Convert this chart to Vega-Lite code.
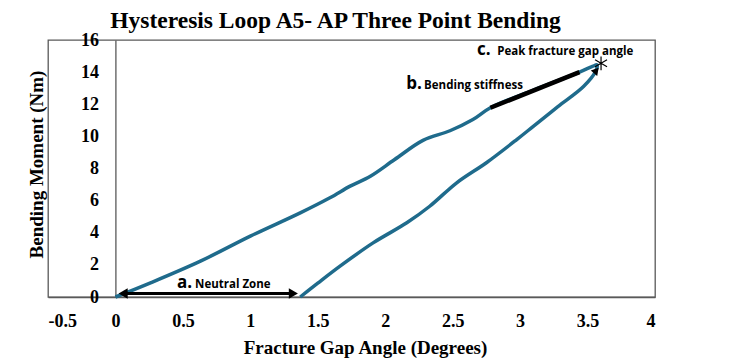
{
  "$schema": "https://vega.github.io/schema/vega-lite/v6.json",
  "width": 607,
  "height": 257,
  "autosize": {"type": "none"},
  "padding": {"left": 48, "top": 40, "right": 95, "bottom": 64},
  "background": "white",
  "title": {
    "text": "Hysteresis Loop A5- AP Three Point Bending",
    "font": "Liberation Serif",
    "fontSize": 23.5,
    "fontWeight": "bold",
    "color": "black",
    "anchor": "middle",
    "frame": "group",
    "baseline": "bottom",
    "offset": 6,
    "dx": -16,
    "dy": 31
  },
  "config": {
    "view": {"stroke": "#595959", "strokeWidth": 1.3},
    "axis": {
      "grid": false,
      "ticks": false,
      "labelOverlap": false,
      "labelFont": "Liberation Serif",
      "labelFontSize": 18,
      "labelFontWeight": "bold",
      "labelColor": "black",
      "titleFont": "Liberation Serif",
      "titleFontSize": 19,
      "titleFontWeight": "bold",
      "titleColor": "black",
      "domainColor": "#595959",
      "domainWidth": 1.3
    }
  },
  "datasets": {
    "loop": [
      {"i": 0, "angle": 0.0, "moment": 0.0},
      {"i": 1, "angle": 0.26, "moment": 0.88},
      {"i": 2, "angle": 0.63, "moment": 2.23},
      {"i": 3, "angle": 1.0, "moment": 3.79},
      {"i": 4, "angle": 1.37, "moment": 5.24},
      {"i": 5, "angle": 1.59, "moment": 6.18},
      {"i": 6, "angle": 1.74, "moment": 6.9},
      {"i": 7, "angle": 1.89, "moment": 7.52},
      {"i": 8, "angle": 2.07, "moment": 8.56},
      {"i": 9, "angle": 2.28, "moment": 9.75},
      {"i": 10, "angle": 2.48, "moment": 10.35},
      {"i": 11, "angle": 2.65, "moment": 11.05},
      {"i": 12, "angle": 2.78, "moment": 11.78},
      {"i": 13, "angle": 3.1, "moment": 12.88},
      {"i": 14, "angle": 3.44, "moment": 14.0},
      {"i": 15, "angle": 3.54, "moment": 14.37},
      {"i": 16, "angle": 3.57, "moment": 14.45},
      {"i": 17, "angle": 3.56, "moment": 14.05},
      {"i": 18, "angle": 3.47, "moment": 13.1},
      {"i": 19, "angle": 3.28, "moment": 11.85},
      {"i": 20, "angle": 3.1, "moment": 10.64},
      {"i": 21, "angle": 2.975, "moment": 9.8},
      {"i": 22, "angle": 2.75, "moment": 8.36},
      {"i": 23, "angle": 2.53, "moment": 7.11},
      {"i": 24, "angle": 2.33, "moment": 5.65},
      {"i": 25, "angle": 2.16, "moment": 4.62},
      {"i": 26, "angle": 1.91, "moment": 3.37},
      {"i": 27, "angle": 1.665, "moment": 1.92},
      {"i": 28, "angle": 1.5, "moment": 0.86},
      {"i": 29, "angle": 1.37, "moment": 0.0}
    ],
    "stiffness": [
      {"angle": 2.78, "moment": 11.78},
      {"angle": 3.44, "moment": 14.0}
    ],
    "neutral": [
      {"start": 0.057, "end": 1.319, "moment": 0.22}
    ],
    "peak": [
      {"angle": 3.6, "moment": 14.55}
    ],
    "unloadStart": [
      {"angle": 3.565, "moment": 14.1}
    ],
    "letters": [
      {"angle": 0.456, "moment": 0.59, "text": "a."},
      {"angle": 2.156, "moment": 12.96, "text": "b."},
      {"angle": 2.68, "moment": 15.04, "text": "c."}
    ],
    "notes": [
      {"angle": 0.59, "moment": 0.59, "text": "Neutral Zone"},
      {"angle": 2.288, "moment": 12.96, "text": "Bending  stiffness"},
      {"angle": 2.83, "moment": 15.04, "text": "Peak fracture gap angle"}
    ]
  },
  "layer": [
    {
      "data": {"name": "loop"},
      "mark": {"type": "line", "color": "#1f6b8c", "strokeWidth": 3.5, "interpolate": "catmull-rom"},
      "encoding": {
        "x": {
          "field": "angle",
          "type": "quantitative",
          "scale": {"domain": [-0.5, 4], "nice": false, "zero": false},
          "axis": {
            "values": [-0.5, 0, 0.5, 1, 1.5, 2, 2.5, 3, 3.5, 4],
            "labelExpr": "'' + datum.value",
            "labelOverlap": false,
            "labelPadding": 15,
            "title": "Fracture Gap Angle (Degrees)",
            "titleX": 317,
            "titleY": 56,
            "titleBaseline": "alphabetic"
          }
        },
        "y": {
          "field": "moment",
          "type": "quantitative",
          "scale": {"domain": [0, 16], "nice": false},
          "axis": {
            "values": [0, 2, 4, 6, 8, 10, 12, 14, 16],
            "tickCount": 9,
            "labelExpr": "'' + datum.value",
            "labelOverlap": false,
            "labelSeparation": 0,
            "offset": -67.4,
            "labelPadding": 17,
            "title": "Bending Moment (Nm)",
            "titleX": -78.7,
            "titleY": 124,
            "titleAngle": -90,
            "titleAlign": "center",
            "titleBaseline": "middle"
          }
        },
        "order": {"field": "i", "type": "quantitative"}
      }
    },
    {
      "data": {"name": "stiffness"},
      "mark": {"type": "line", "color": "black", "strokeWidth": 4.5, "strokeCap": "butt"},
      "encoding": {
        "x": {"field": "angle", "type": "quantitative"},
        "y": {"field": "moment", "type": "quantitative"}
      }
    },
    {
      "data": {"name": "neutral"},
      "mark": {"type": "rule", "color": "black", "strokeWidth": 3},
      "encoding": {
        "x": {"field": "start", "type": "quantitative"},
        "x2": {"field": "end"},
        "y": {"field": "moment", "type": "quantitative"}
      }
    },
    {
      "data": {"name": "neutral"},
      "mark": {"type": "point", "shape": "triangle-left", "filled": true, "color": "black", "size": 110, "opacity": 1},
      "encoding": {
        "x": {"field": "start", "type": "quantitative"},
        "y": {"field": "moment", "type": "quantitative"}
      }
    },
    {
      "data": {"name": "neutral"},
      "mark": {"type": "point", "shape": "triangle-right", "filled": true, "color": "black", "size": 110, "opacity": 1},
      "encoding": {
        "x": {"field": "end", "type": "quantitative"},
        "y": {"field": "moment", "type": "quantitative"}
      }
    },
    {
      "data": {"name": "unloadStart"},
      "mark": {"type": "point", "shape": "triangle-up", "filled": true, "color": "black", "size": 70, "angle": 40, "opacity": 1},
      "encoding": {
        "x": {"field": "angle", "type": "quantitative"},
        "y": {"field": "moment", "type": "quantitative"}
      }
    },
    {
      "data": {"name": "peak"},
      "mark": {
        "type": "point",
        "shape": "M0,-1L0,1M-0.87,-0.5L0.87,0.5M-0.87,0.5L0.87,-0.5",
        "filled": false,
        "color": "black",
        "strokeWidth": 1.2,
        "size": 190,
        "opacity": 1
      },
      "encoding": {
        "x": {"field": "angle", "type": "quantitative"},
        "y": {"field": "moment", "type": "quantitative"}
      }
    },
    {
      "data": {"name": "letters"},
      "mark": {"type": "text", "font": "Open Sans", "fontWeight": "bold", "fontSize": 17, "align": "left", "baseline": "alphabetic", "color": "black"},
      "encoding": {
        "x": {"field": "angle", "type": "quantitative"},
        "y": {"field": "moment", "type": "quantitative"},
        "text": {"field": "text"}
      }
    },
    {
      "data": {"name": "notes"},
      "mark": {"type": "text", "font": "Open Sans", "fontWeight": "bold", "fontSize": 11.5, "align": "left", "baseline": "alphabetic", "color": "black"},
      "encoding": {
        "x": {"field": "angle", "type": "quantitative"},
        "y": {"field": "moment", "type": "quantitative"},
        "text": {"field": "text"}
      }
    }
  ]
}
